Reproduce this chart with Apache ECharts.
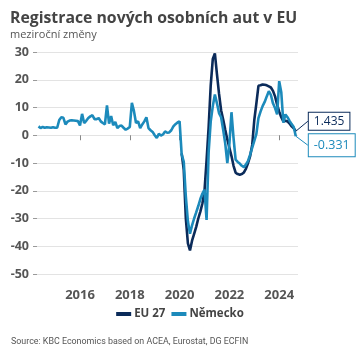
<!DOCTYPE html>
<html>
<head>
<meta charset="utf-8">
<script src="https://cdn.jsdelivr.net/npm/echarts@6/dist/echarts.min.js"></script>
<style>
html,body{margin:0;padding:0;background:#fff;}
#c{width:360px;height:360px;}
</style>
</head>
<body>
<div id="c"></div>
<script>
// Monthly data: Germany from 2014-05, EU 27 from 2020-02, both to 2024-09
const germanyStart = [2014, 5];
const germany = [
  3.2, 2.6, 3.0, 2.7, 2.9, 2.8, 2.7, 2.9,                       // 2014 May-Dec
  2.7, 2.7, 5.5, 6.5, 6.3, 3.9, 4.9, 5.3, 5.4, 5.3, 5.2, 5.1,   // 2015
  3.5, 7.7, 4.4, 5.2, 6.2, 6.8, 7.2, 5.8, 5.8, 6.2, 5.0, 4.4,   // 2016
  3.9, 10.8, 4.2, 6.9, 3.6, 4.8, 2.6, 3.3, 3.5, 2.7, 2.0, 2.4,  // 2017
  3.0, 11.7, 8.7, 4.4, 5.0, 2.6, 3.9, 5.0, 6.5, 2.6, 1.8, 1.2,  // 2018
  0.0, -1.0, 0.5, -0.1, 0.3, 1.4, 0.9, 1.0, 1.8, 3.2, 4.0, 4.6, // 2019
  5.0, -7.0, -9.5, -22.0, -31.0, -35.5, -32.5, -30.0, -27.8, -25.5, -23.0, -21.0, // 2020
  -19.6, -30.5, -6.0, 5.0, 10.5, 14.7, 11.5, 8.0, 6.5, 2.0, -3.0, -10.0,         // 2021
  -3.0, 8.3, -1.0, -8.8, -9.6, -10.2, -11.0, -11.5, -10.5, -9.2, -7.0, -4.5,     // 2022
  -2.0, 0.5, 6.2, 8.5, 10.5, 12.0, 14.0, 15.9, 14.5, 11.5, 9.8, 7.5,             // 2023
  19.5, 15.5, 4.5, 7.5, 6.5, 5.2, 4.0, 3.0, -0.331                               // 2024 Jan-Sep
];
const euStart = [2020, 2];
const eu27 = [
  -6.5, -12.5, -30.0, -39.0, -41.5, -38.0, -35.5, -33.0, -30.0, -27.5, -24.5,    // 2020 Feb-Dec
  -20.0, -9.0, 3.0, 18.0, 27.5, 29.5, 22.0, 15.0, 9.0, 5.7, 2.0, -1.5,           // 2021
  -4.5, -7.5, -11.0, -13.5, -14.0, -14.2, -14.0, -13.4, -12.0, -10.0, -7.5, -3.5, // 2022
  5.5, 11.5, 17.8, 18.0, 18.3, 18.2, 18.0, 17.6, 17.2, 16.0, 14.0, 11.0,         // 2023
  8.5, 6.5, 5.0, 5.2, 5.0, 4.2, 3.2, 2.5, 1.435                                  // 2024 Jan-Sep
];
const seriesNames = ['EU 27', 'Německo'];
const yearTicks = [2016, 2018, 2020, 2022, 2024];

// month index -> decimal year (Jan = year + 0)
function monthPositions(start, n) {
  const out = [];
  for (let i = 0; i < n; i++) {
    const m0 = start[1] - 1 + i;
    out.push(start[0] + m0 / 12);
  }
  return out;
}
const gX = monthPositions(germanyStart, germany.length);
const eX = monthPositions(euStart, eu27.length);

const FONT = 'Open Sans';
const navy = '#0b2b5a';
const blue = '#1c8abb';

function buildData(xs, vals, color, pad, fs) {
  return vals.map((v, i) => {
    const item = { value: [xs[i], v] };
    if (i === vals.length - 1) {
      item.label = {
        show: true,
        formatter: String(v),
        color: color,
        fontFamily: FONT,
        fontSize: fs,
        backgroundColor: '#fff',
        borderColor: color,
        borderWidth: 1,
        padding: pad,
        position: 'right'
      };
      item.labelLine = { show: true, lineStyle: { color: color, width: 1 } };
    }
    return item;
  });
}

const chart = echarts.init(document.getElementById('c'), null, { renderer: 'canvas' });
chart.setOption({
  animation: false,
  backgroundColor: '#fff',
  textStyle: { fontFamily: FONT },
  title: {
    text: 'Registrace nových osobních aut v EU',
    subtext: 'meziroční změny',
    left: 5, top: 5,
    itemGap: 3,
    textStyle: { fontFamily: FONT, fontSize: 15.8, fontWeight: 'bold', color: '#444' },
    subtextStyle: { fontFamily: FONT, fontSize: 11, color: '#555' }
  },
  legend: {
    bottom: 35, left: 'center',
    itemWidth: 15, itemHeight: 4, itemGap: 6,
    icon: 'rect',
    textStyle: { fontFamily: FONT, fontSize: 11.5, fontWeight: 'bold', color: '#444', padding: [0, 0, 0, -2] },
    data: seriesNames
  },
  graphic: [{
    type: 'text', left: 11, top: 337,
    style: { text: 'Source: KBC Economics based on ACEA, Eurostat, DG ECFIN', fontFamily: 'Roboto', fontSize: 8.9, fill: '#555' }
  }],
  grid: { left: 37, right: 62, top: 52, bottom: 86, containLabel: false },
  xAxis: {
    type: 'value',
    min: 2014.273,
    max: 2024.755,
    offset: 9,
    axisLine: { show: false },
    axisTick: { show: true, length: 5, lineStyle: { color: '#888' }, customValues: yearTicks },
    axisLabel: {
      fontFamily: FONT, fontSize: 13, fontWeight: 'bold', color: '#555', margin: 6,
      customValues: yearTicks,
      formatter: v => String(Math.round(v))
    },
    splitLine: { show: false }
  },
  yAxis: {
    type: 'value', min: -50, max: 30, interval: 10,
    axisLine: { show: false },
    axisTick: { show: true, length: 4, lineStyle: { color: '#999' } },
    axisLabel: { fontFamily: FONT, fontSize: 12.5, fontWeight: 'bold', color: '#555', margin: 8 },
    splitLine: { lineStyle: { color: '#e3e3e3', width: 1 } }
  },
  series: [
    {
      name: seriesNames[0], type: 'line', data: buildData(eX, eu27, navy, [3, 5, 2, 5], 12),
      showSymbol: true, showAllSymbol: true, symbol: 'circle', symbolSize: 0.01,
      lineStyle: { color: navy, width: 2.6 }, itemStyle: { color: navy },
      labelLayout: { dx: 8, dy: -10 }
    },
    {
      name: seriesNames[1], type: 'line', data: buildData(gX, germany, blue, [5, 5, 4, 5], 12.5),
      showSymbol: true, showAllSymbol: true, symbol: 'circle', symbolSize: 0.01,
      lineStyle: { color: blue, width: 2.6 }, itemStyle: { color: blue },
      labelLayout: { dx: 8, dy: 9 }
    }
  ]
});
</script>
</body>
</html>
